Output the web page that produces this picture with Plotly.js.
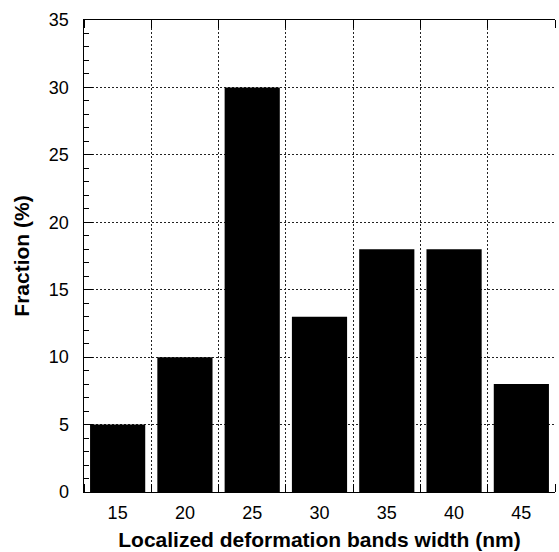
<!DOCTYPE html>
<html>
<head>
<meta charset="utf-8">
<script src="https://cdn.plot.ly/plotly-3.0.1.min.js"></script>
<style>html,body{margin:0;padding:0;background:#fff;}#chart{width:559px;height:552px;}</style>
</head>
<body>
<div id="chart"></div>
<script>
const widths = [15, 20, 25, 30, 35, 40, 45];
const fractions = [5, 10, 30, 13, 18, 18, 8];
const xTickLabels = ['15', '20', '25', '30', '35', '40', '45'];
const yTickValues = [0, 5, 10, 15, 20, 25, 30, 35];

const FONT = '"Liberation Sans", Arial, Helvetica, sans-serif';

const data = [{
  type: 'bar',
  x: widths,
  y: fractions,
  width: 4.1,
  marker: {color: '#000000', line: {width: 0}},
  hoverinfo: 'skip'
}];

const layout = {
  width: 559,
  height: 552,
  margin: {l: 84, r: 4, t: 20, b: 60},
  paper_bgcolor: '#ffffff',
  plot_bgcolor: '#ffffff',
  showlegend: false,
  font: {family: FONT, color: '#000', size: 18},
  xaxis: {
    range: [12.5, 47.5],
    tickmode: 'array',
    tickvals: widths,
    ticktext: xTickLabels,
    ticks: '',
    showgrid: false,
    zeroline: false,
    showline: true,
    mirror: 'ticks',
    linecolor: '#000',
    linewidth: 1,
    ticklabelstandoff: 4,
    tickfont: {family: FONT, size: 18, color: '#000'},
    minor: {
      tickmode: 'linear',
      tick0: 17.5,
      dtick: 5,
      ticks: 'inside',
      ticklen: 8,
      tickwidth: 1,
      tickcolor: '#000',
      showgrid: true,
      gridcolor: '#222',
      gridwidth: 1,
      griddash: '2px,2px'
    },
    title: {
      text: '<b>Localized deformation bands width (nm)</b>',
      font: {family: FONT, size: 21, color: '#000'},
      standoff: 10
    }
  },
  yaxis: {
    range: [0, 35],
    tickmode: 'array',
    tickvals: yTickValues,
    ticks: 'inside',
    ticklen: 9,
    tickwidth: 1,
    tickcolor: '#000',
    showgrid: true,
    gridcolor: '#222',
    gridwidth: 1,
    griddash: '2px,2px',
    zeroline: false,
    showline: true,
    linecolor: '#000',
    linewidth: 1.5,
    ticklabelstandoff: 10,
    tickfont: {family: FONT, size: 18, color: '#000'},
    minor: {
      tickmode: 'linear',
      tick0: 0,
      dtick: 1,
      ticks: 'inside',
      ticklen: 5,
      tickwidth: 1,
      tickcolor: '#000',
      showgrid: false
    },
    title: {
      text: '<b>Fraction (%)</b>',
      font: {family: FONT, size: 21, color: '#000'},
      standoff: 13
    }
  }
};

Plotly.newPlot('chart', data, layout, {displayModeBar: false, staticPlot: true});
</script>
</body>
</html>
